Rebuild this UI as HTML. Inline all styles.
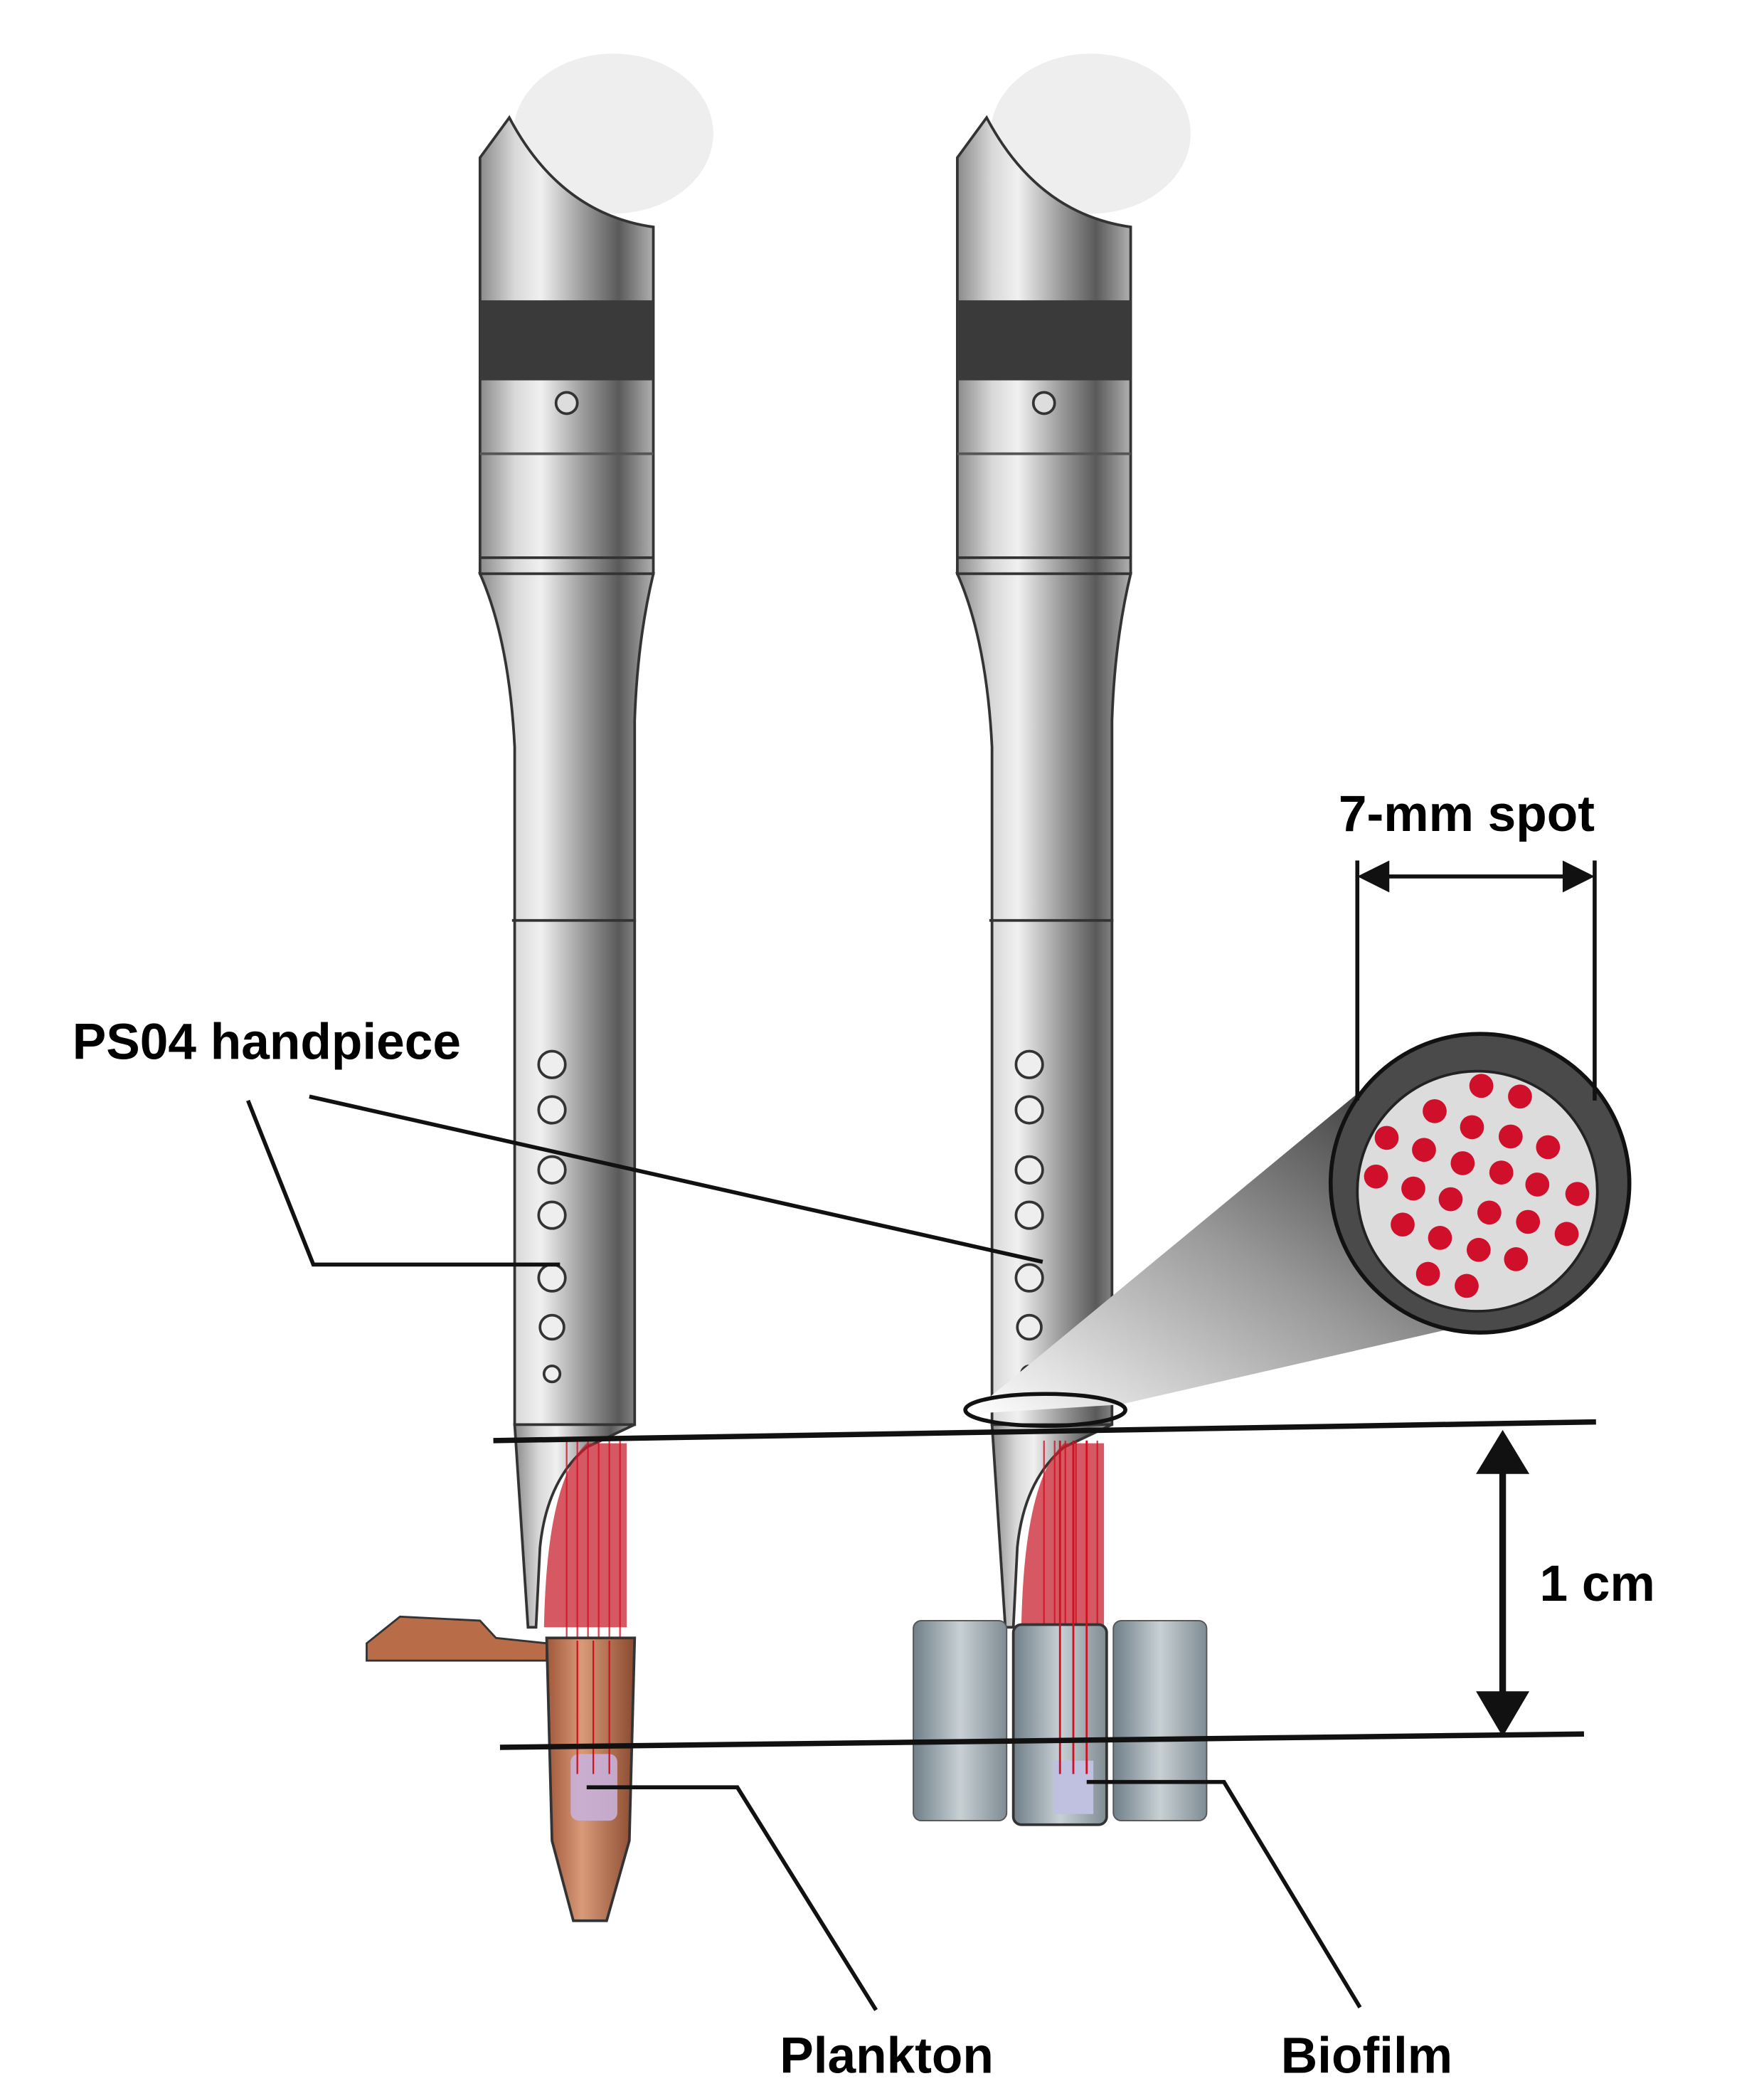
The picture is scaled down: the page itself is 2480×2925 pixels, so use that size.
<!DOCTYPE html>
<html><head><meta charset="utf-8"><style>html,body{margin:0;padding:0;background:#fff}svg{display:block}</style></head><body>
<svg width="2480" height="2925" viewBox="0 0 1323 1560" xmlns="http://www.w3.org/2000/svg" font-family="Liberation Sans, sans-serif">
<defs>
<linearGradient id="metal" x1="0" x2="1" y1="0" y2="0">
<stop offset="0" stop-color="#8a8a8a"/><stop offset="0.2" stop-color="#d8d8d8"/><stop offset="0.35" stop-color="#f0f0f0"/><stop offset="0.6" stop-color="#9a9a9a"/><stop offset="0.8" stop-color="#5a5a5a"/><stop offset="1" stop-color="#b0b0b0"/>
</linearGradient>
<linearGradient id="cone" x1="0" x2="1" y1="1" y2="0">
<stop offset="0" stop-color="#fff"/><stop offset="0.5" stop-color="#999"/><stop offset="1" stop-color="#222"/>
</linearGradient>
<linearGradient id="tube" x1="0" x2="1"><stop offset="0" stop-color="#a0583a"/><stop offset="0.4" stop-color="#d89a78"/><stop offset="1" stop-color="#8a4a30"/></linearGradient>
<linearGradient id="well" x1="0" x2="1"><stop offset="0" stop-color="#6f7f88"/><stop offset="0.5" stop-color="#c8d0d4"/><stop offset="1" stop-color="#7f8c93"/></linearGradient>
<g id="hp">
<ellipse cx="460" cy="100" rx="75" ry="60" fill="#eeeeee"/>
<path d="M360,118 L382,88 Q420,160 490,170 L490,430 L360,430 Z" fill="url(#metal)" stroke="#333" stroke-width="2"/>
<rect x="360" y="225" width="130" height="60" fill="#3a3a3a"/>
<line x1="360" y1="340" x2="490" y2="340" stroke="#555" stroke-width="2"/>
<line x1="360" y1="418" x2="490" y2="418" stroke="#333" stroke-width="2"/>
<circle cx="425" cy="302" r="8" fill="#ddd" stroke="#333" stroke-width="2"/>
<path d="M360,430 L490,430 Q478,480 476,540 L476,1068 L386,1068 L386,560 Q382,480 360,430 Z" fill="url(#metal)" stroke="#333" stroke-width="2"/>
<line x1="384" y1="690" x2="477" y2="690" stroke="#333" stroke-width="2"/>
<g fill="#eee" stroke="#333" stroke-width="2">
<circle cx="414" cy="798" r="10"/><circle cx="414" cy="832" r="10"/><circle cx="414" cy="877" r="10"/><circle cx="414" cy="911" r="10"/><circle cx="414" cy="958" r="10"/><circle cx="414" cy="995" r="9"/><circle cx="414" cy="1030" r="6"/>
</g>
<path d="M386,1068 L476,1068 L440,1085 Q410,1110 405,1160 L402,1220 L396,1220 Z" fill="url(#metal)" stroke="#333" stroke-width="2"/>
<path d="M440,1082 Q410,1110 408,1220 L470,1220 L470,1082 Z" fill="#c8202e" opacity="0.75"/>
<g stroke="#d01020" stroke-width="1.2" opacity="0.8">
<line x1="425" y1="1080" x2="425" y2="1330"/><line x1="433" y1="1080" x2="433" y2="1330"/><line x1="441" y1="1080" x2="441" y2="1330"/><line x1="449" y1="1080" x2="449" y2="1330"/><line x1="457" y1="1080" x2="457" y2="1330"/><line x1="465" y1="1080" x2="465" y2="1330"/>
</g>
</g>
</defs>
<use href="#hp"/>
<use href="#hp" x="358"/>
<path d="M275,1232 L300,1212 L360,1215 L372,1228 L410,1232 L410,1245 L275,1245 Z" fill="#b86c48" stroke="#333" stroke-width="1.5"/>
<path d="M410,1228 L476,1228 L472,1380 L455,1440 L430,1440 L414,1380 Z" fill="url(#tube)" stroke="#333" stroke-width="2"/>
<rect x="428" y="1315" width="35" height="50" rx="6" fill="#c8b0d8" opacity="0.9"/>
<g stroke="#d01020" stroke-width="1.2"><line x1="433" y1="1230" x2="433" y2="1330"/><line x1="445" y1="1230" x2="445" y2="1330"/><line x1="457" y1="1230" x2="457" y2="1330"/></g>
<rect x="685" y="1215" width="70" height="150" rx="6" fill="url(#well)" stroke="#555"/>
<rect x="835" y="1215" width="70" height="150" rx="6" fill="url(#well)" stroke="#555"/>
<rect x="760" y="1218" width="70" height="150" rx="6" fill="url(#well)" stroke="#333" stroke-width="2"/>
<rect x="790" y="1320" width="30" height="40" fill="#c0c0e0"/>
<g stroke="#d01020" stroke-width="1.5"><line x1="795" y1="1080" x2="795" y2="1330"/><line x1="805" y1="1080" x2="805" y2="1330"/><line x1="815" y1="1080" x2="815" y2="1330"/></g>
<polygon points="727,1060 840,1053 1115,990 1030,810" fill="url(#cone)"/>
<ellipse cx="784" cy="1057" rx="60" ry="12" fill="none" stroke="#111" stroke-width="3"/>
<circle cx="1110" cy="887" r="112" fill="#4a4a4a" stroke="#111" stroke-width="3"/>
<circle cx="1108" cy="893" r="90" fill="#dcdcdc" stroke="#222" stroke-width="2"/>
<g fill="#d0102a">
<circle cx="1076" cy="833" r="9"/><circle cx="1111" cy="814" r="9"/><circle cx="1140" cy="822" r="9"/>
<circle cx="1040" cy="853" r="9"/><circle cx="1068" cy="862" r="9"/><circle cx="1104" cy="845" r="9"/><circle cx="1133" cy="852" r="9"/><circle cx="1161" cy="860" r="9"/>
<circle cx="1032" cy="882" r="9"/><circle cx="1060" cy="891" r="9"/><circle cx="1097" cy="872" r="9"/><circle cx="1126" cy="879" r="9"/><circle cx="1153" cy="888" r="9"/><circle cx="1183" cy="895" r="9"/>
<circle cx="1052" cy="918" r="9"/><circle cx="1088" cy="899" r="9"/><circle cx="1117" cy="909" r="9"/><circle cx="1146" cy="916" r="9"/><circle cx="1175" cy="925" r="9"/>
<circle cx="1080" cy="928" r="9"/><circle cx="1109" cy="937" r="9"/><circle cx="1137" cy="944" r="9"/><circle cx="1071" cy="955" r="9"/><circle cx="1100" cy="964" r="9"/>
</g>
<g stroke="#111" stroke-width="3" fill="none">
<line x1="1018" y1="645" x2="1018" y2="825"/><line x1="1196" y1="645" x2="1196" y2="825"/>
<line x1="1030" y1="657" x2="1184" y2="657"/>
</g>
<polygon points="1018,657 1042,645 1042,669" fill="#111"/><polygon points="1196,657 1172,645 1172,669" fill="#111"/>
<text x="1100" y="623" font-size="38" font-weight="bold" text-anchor="middle">7-mm spot</text>
<line x1="370" y1="1080" x2="1197" y2="1066" stroke="#111" stroke-width="4"/>
<line x1="375" y1="1310" x2="1188" y2="1300" stroke="#111" stroke-width="4"/>
<line x1="1127" y1="1095" x2="1127" y2="1280" stroke="#111" stroke-width="5"/>
<polygon points="1127,1072 1107,1105 1147,1105" fill="#111"/><polygon points="1127,1302 1107,1268 1147,1268" fill="#111"/>
<text x="1198" y="1200" font-size="38" font-weight="bold" text-anchor="middle">1 cm</text>
<g stroke="#111" stroke-width="3" fill="none">
<polyline points="186,825 235,948 420,948"/>
<line x1="232" y1="822" x2="782" y2="946"/>
<polyline points="440,1340 553,1340 657,1507"/>
<polyline points="815,1336 918,1336 1020,1505"/>
</g>
<text x="200" y="794" font-size="38" font-weight="bold" text-anchor="middle">PS04 handpiece</text>
<text x="665" y="1554" font-size="38" font-weight="bold" text-anchor="middle">Plankton</text>
<text x="1025" y="1554" font-size="38" font-weight="bold" text-anchor="middle">Biofilm</text>
</svg>
</body></html>
